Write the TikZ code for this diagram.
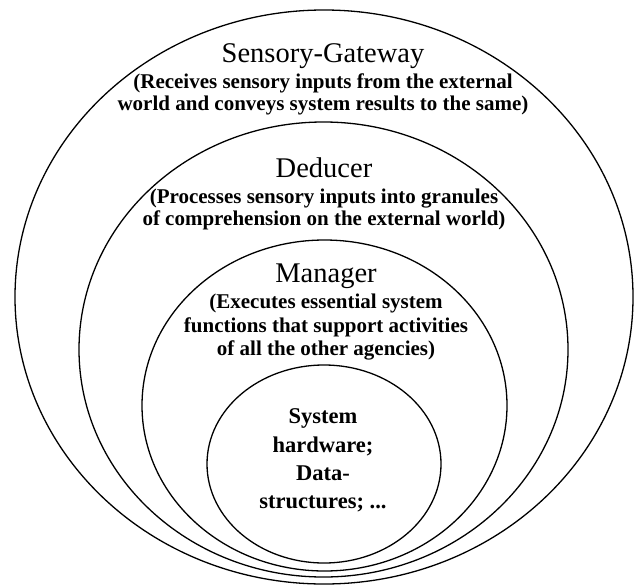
\documentclass[tikz,border=0pt]{standalone}
\usepackage{fontspec}
\setmainfont{Liberation Serif}
\usetikzlibrary{shapes.geometric}
\begin{document}
\begin{tikzpicture}[x=1pt,y=-1pt,
  ring/.style={draw=black, line width=1.3pt, ellipse, inner sep=0pt, fill=none},
  ttl/.style={anchor=base, inner sep=0pt, font=\fontsize{28.5}{30}\selectfont},
  sub/.style={anchor=base, inner sep=0pt, font=\bfseries\fontsize{21}{22}\selectfont},
  core/.style={anchor=base, inner sep=0pt, font=\bfseries\fontsize{22.5}{24}\selectfont}]
\useasboundingbox (0,0) rectangle (636,586);
\fill[white] (0,0) rectangle (636,586);
% rings
\node[ring, minimum width=618pt, minimum height=574pt] (outer) at (324,297) {};
\node[ring, minimum width=489pt, minimum height=455pt] (deducer) at (323.5,349.5) {};
\node[ring, minimum width=365pt, minimum height=331pt] (manager) at (324.5,405.5) {};
\node[ring, minimum width=234pt, minimum height=198pt] (core) at (324,464) {};
% Sensory-Gateway
\node[ttl] (sgT) at (323,62) {Sensory-Gateway};
\node[sub] (sg1) at (323,88) {(Receives sensory inputs from the external};
\node[sub] (sg2) at (323,110) {world and conveys system results to the same)};
% Deducer
\node[ttl] (dT) at (324,177) {Deducer};
\node[sub] (d1) at (324,203) {(Processes sensory inputs into granules};
\node[sub] (d2) at (324,225) {of comprehension on the external world)};
% Manager
\node[ttl] (mT) at (326,282) {Manager};
\node[sub] (m1) at (326,308) {(Executes essential system};
\node[sub] (m2) at (326,332) {functions that support activities};
\node[sub] (m3) at (326,355) {of all the other agencies)};
% core
\node[core] (c1) at (323,423) {System};
\node[core] (c2) at (323,452) {hardware;};
\node[core] (c3) at (323,480) {Data-};
\node[core] (c4) at (323,508) {structures; ...};
\end{tikzpicture}
\end{document}
